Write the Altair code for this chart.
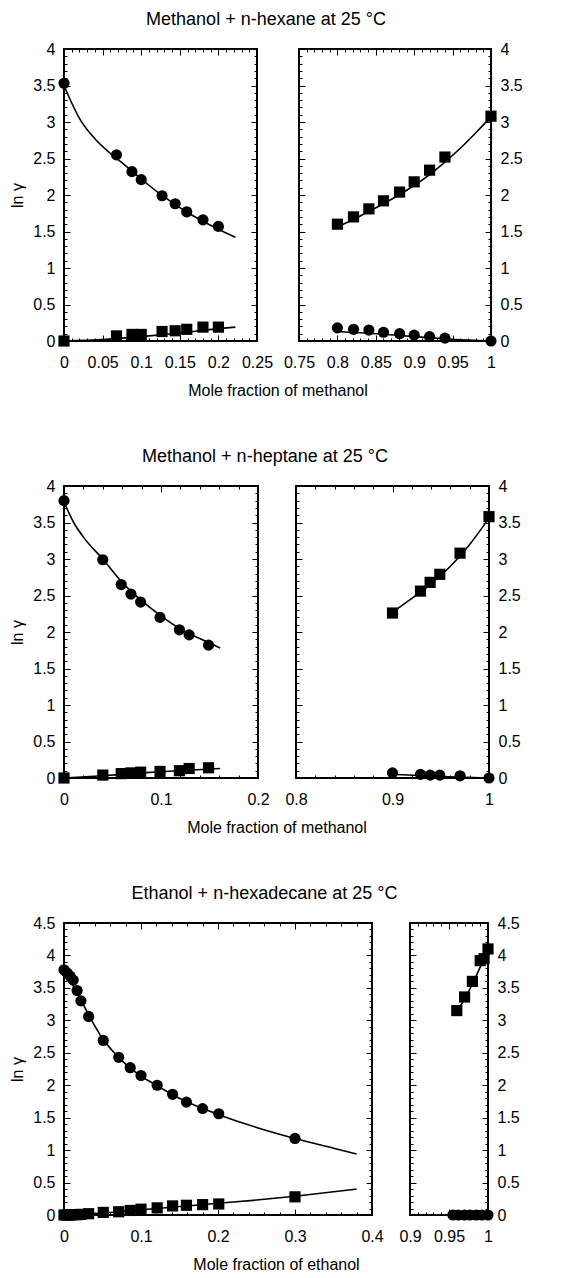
import altair as alt
import pandas as pd

# ---------------- Row 1: Methanol + n-hexane ----------------
r1L_x = [0, 0.068, 0.088, 0.1, 0.127, 0.144, 0.159, 0.18, 0.2]
r1L_circ_y = [3.53, 2.55, 2.32, 2.21, 1.99, 1.88, 1.77, 1.66, 1.57]
r1L_sq_y = [0.0, 0.07, 0.09, 0.09, 0.13, 0.14, 0.16, 0.19, 0.19]
r1L_fitc_x = [0, 0.01, 0.02, 0.04, 0.06, 0.08, 0.10, 0.12, 0.14, 0.16, 0.18, 0.20, 0.222]
r1L_fitc_y = [3.5, 3.26, 3.05, 2.77, 2.57, 2.40, 2.22, 2.05, 1.90, 1.76, 1.64, 1.53, 1.42]
r1L_fits_x = [0, 0.05, 0.1, 0.15, 0.2, 0.222]
r1L_fits_y = [0, 0.02, 0.06, 0.11, 0.17, 0.19]

r1R_x = [0.80, 0.821, 0.841, 0.86, 0.881, 0.90, 0.92, 0.94, 1.0]
r1R_sq_y = [1.6, 1.70, 1.81, 1.92, 2.04, 2.18, 2.34, 2.52, 3.08]
r1R_circ_y = [0.18, 0.16, 0.15, 0.12, 0.10, 0.08, 0.06, 0.04, 0.0]
r1R_fits_x = [0.80, 0.82, 0.84, 0.86, 0.88, 0.90, 0.92, 0.94, 0.96, 0.98, 1.0]
r1R_fits_y = [1.56, 1.66, 1.77, 1.88, 2.0, 2.13, 2.28, 2.45, 2.64, 2.85, 3.07]
r1R_fitc_x = [0.80, 0.85, 0.90, 0.95, 1.0]
r1R_fitc_y = [0.13, 0.10, 0.06, 0.025, 0.0]

# ---------------- Row 2: Methanol + n-heptane ----------------
r2L_x = [0, 0.04, 0.059, 0.069, 0.079, 0.099, 0.119, 0.129, 0.149]
r2L_circ_y = [3.8, 2.99, 2.65, 2.52, 2.41, 2.2, 2.03, 1.96, 1.82]
r2L_sq_y = [0, 0.04, 0.06, 0.07, 0.08, 0.09, 0.10, 0.13, 0.14]
r2L_fitc_x = [0, 0.01, 0.02, 0.04, 0.06, 0.08, 0.10, 0.12, 0.14, 0.15, 0.161]
r2L_fitc_y = [3.78, 3.5, 3.3, 3.0, 2.68, 2.43, 2.22, 2.04, 1.91, 1.85, 1.78]
r2L_fits_x = [0, 0.04, 0.08, 0.12, 0.161]
r2L_fits_y = [0, 0.03, 0.07, 0.10, 0.13]

r2R_x = [0.9, 0.929, 0.939, 0.949, 0.97, 1.0]
r2R_sq_y = [2.26, 2.56, 2.68, 2.79, 3.08, 3.58]
r2R_circ_y = [0.07, 0.05, 0.04, 0.04, 0.03, 0.0]
r2R_fits_x = [0.9, 0.92, 0.94, 0.96, 0.98, 1.0]
r2R_fits_y = [2.27, 2.46, 2.66, 2.90, 3.20, 3.56]
r2R_fitc_x = [0.9, 0.95, 1.0]
r2R_fitc_y = [0.05, 0.02, 0.0]

# ---------------- Row 3: Ethanol + n-hexadecane ----------------
r3L_x = [0, 0.004, 0.008, 0.012, 0.017, 0.022, 0.032, 0.051, 0.071, 0.086,
         0.1, 0.121, 0.141, 0.159, 0.18, 0.201, 0.3]
r3L_circ_y = [3.78, 3.73, 3.68, 3.62, 3.46, 3.3, 3.06, 2.69, 2.43, 2.27,
              2.15, 2.0, 1.86, 1.74, 1.64, 1.56, 1.18]
r3L_sq_y = [0, 0, 0, 0.005, 0.005, 0.01, 0.02, 0.04, 0.05, 0.07,
            0.09, 0.11, 0.14, 0.15, 0.16, 0.17, 0.28]
r3L_fitc_x = [0, 0.005, 0.01, 0.02, 0.03, 0.05, 0.07, 0.10, 0.12, 0.14, 0.16,
              0.18, 0.20, 0.25, 0.30, 0.35, 0.38]
r3L_fitc_y = [3.78, 3.68, 3.57, 3.36, 3.13, 2.72, 2.44, 2.14, 2.0, 1.86, 1.74,
              1.64, 1.55, 1.35, 1.18, 1.03, 0.94]
r3L_fits_x = [0, 0.05, 0.1, 0.15, 0.2, 0.25, 0.3, 0.38]
r3L_fits_y = [0, 0.03, 0.08, 0.13, 0.18, 0.23, 0.29, 0.40]

r3R_sq_x = [0.96, 0.97, 0.98, 0.99, 0.995, 1.0]
r3R_sq_y = [3.15, 3.36, 3.60, 3.92, 3.95, 4.10]
r3R_circ_x = [0.955, 0.962, 0.97, 0.977, 0.985, 0.992, 1.0]
r3R_circ_y = [0, 0, 0, 0, 0, 0, 0]
r3R_fits_x = [0.96, 0.97, 0.98, 0.99, 1.0]
r3R_fits_y = [3.13, 3.33, 3.56, 3.82, 4.08]
r3R_fitc_x = [0.955, 1.0]
r3R_fitc_y = [0.0, 0.0]

# ---------------- tick / label arrays ----------------
y_labels_4 = [0, 0.5, 1, 1.5, 2, 2.5, 3, 3.5, 4]
y_labels_45 = [0, 0.5, 1, 1.5, 2, 2.5, 3, 3.5, 4, 4.5]
y_minor_4 = [round(i * 0.1, 2) for i in range(41)]
y_minor_45 = [round(i * 0.1, 2) for i in range(46)]

r1L_xlabels = [0, 0.05, 0.1, 0.15, 0.2, 0.25]
r1L_xminor = [round(i * 0.01, 2) for i in range(26)]
r1R_xlabels = [0.75, 0.8, 0.85, 0.9, 0.95, 1]
r1R_xminor = [round(0.75 + i * 0.01, 2) for i in range(26)]
r2L_xlabels = [0, 0.1, 0.2]
r2L_xminor = [round(i * 0.02, 2) for i in range(11)]
r2R_xlabels = [0.8, 0.9, 1]
r2R_xminor = [round(0.8 + i * 0.02, 2) for i in range(11)]
r3L_xlabels = [0, 0.1, 0.2, 0.3, 0.4]
r3L_xminor = [round(i * 0.02, 2) for i in range(21)]
r3R_xlabels = [0.9, 0.95, 1]
r3R_xminor = [round(0.9 + i * 0.01, 2) for i in range(11)]

FONT = "Liberation Sans"
FS = 16


def df(xs, ys):
    return pd.DataFrame({"x": xs, "y": ys})


def tick_axis(orient, values, size):
    return alt.Axis(orient=orient, values=values, tickSize=size, offset=-size,
                    labels=False, domain=False, grid=False, title=None,
                    ticks=True, tickColor="black", tickWidth=1)


def panel(circ, sq, fitc, fits, xdom, ydom, xlabels, xminor, ylabels, yminor,
          side, width, height, xtitle=None, xtitle_x=None):
    xs = alt.Scale(domain=xdom, nice=False, zero=False)
    ys = alt.Scale(domain=ydom, nice=False, zero=False)
    other = "right" if side == "left" else "left"

    main_x = alt.Axis(orient="bottom", values=xlabels, format="~g", labels=True,
                      ticks=False, domain=False, grid=False, labelFlush=False,
                      labelOverlap=False, labelPadding=13, labelFontSize=FS,
                      labelFont=FONT, labelColor="black",
                      title=xtitle if xtitle else None, titleFont=FONT, titleFontSize=FS,
                      titleFontWeight="normal", titleColor="black", titlePadding=12,
                      **({"titleX": xtitle_x} if xtitle_x is not None else {}))
    ykw = dict(orient=side, values=ylabels, format="~g", labels=True, ticks=False,
               domain=False, grid=False, labelPadding=9, labelFontSize=FS,
               labelFont=FONT, labelColor="black", labelOverlap=False,
               labelFlush=False)
    if side == "left":
        main_y = alt.Axis(title="ln γ", titleFont=FONT, titleFontSize=FS,
                          titleFontWeight="normal", titleColor="black", titlePadding=7,
                          **ykw)
    else:
        main_y = alt.Axis(title=None, labelAlign="left", **ykw)

    def enc(base, xaxis, yaxis):
        return base.encode(
            x=alt.X("x:Q", scale=xs, axis=xaxis),
            y=alt.Y("y:Q", scale=ys, axis=yaxis),
        )

    line_c = enc(alt.Chart(df(*fitc)).mark_line(color="black", strokeWidth=1.6,
                                                interpolate="monotone"),
                 main_x, main_y)
    line_s = enc(alt.Chart(df(*fits)).mark_line(color="black", strokeWidth=1.6,
                                                interpolate="monotone"),
                 tick_axis("bottom", xlabels, 6), tick_axis(side, ylabels, 6))
    pts_c = enc(alt.Chart(df(*circ)).mark_circle(color="black", size=125, opacity=1),
                tick_axis("bottom", xminor, 3), tick_axis(side, yminor, 3))
    pts_s = enc(alt.Chart(df(*sq)).mark_square(color="black", size=125, opacity=1),
                tick_axis("top", xlabels, 6), tick_axis(other, ylabels, 6))
    ghost = enc(alt.Chart(df(*circ)).mark_point(opacity=0),
                tick_axis("top", xminor, 3), tick_axis(other, yminor, 3))

    return alt.layer(line_c, line_s, ghost, pts_c, pts_s).resolve_axis(
        x="independent", y="independent"
    ).properties(width=width, height=height)


def row(title, left, right, spacing):
    return alt.hconcat(left, right, spacing=spacing, bounds="flush",
                       title=alt.TitleParams(title, anchor="middle", font=FONT,
                                             fontSize=18, fontWeight="normal",
                                             color="black", offset=11))


H = 292
# Row 1
w1l, w1r, s1 = 193, 192, 42
p1l = panel((r1L_x, r1L_circ_y), (r1L_x, r1L_sq_y), (r1L_fitc_x, r1L_fitc_y),
            (r1L_fits_x, r1L_fits_y), [0, 0.25], [0, 4], r1L_xlabels, r1L_xminor,
            y_labels_4, y_minor_4, "left", w1l, H,
            "Mole fraction of methanol", (w1l + s1 + w1r) / 2)
p1r = panel((r1R_x, r1R_circ_y), (r1R_x, r1R_sq_y), (r1R_fitc_x, r1R_fitc_y),
            (r1R_fits_x, r1R_fits_y), [0.75, 1], [0, 4], r1R_xlabels, r1R_xminor,
            y_labels_4, y_minor_4, "right", w1r, H)
row1 = row("Methanol + n-hexane at 25 °C", p1l, p1r, s1)

# Row 2
w2l, w2r, s2 = 194, 193, 38
p2l = panel((r2L_x, r2L_circ_y), (r2L_x, r2L_sq_y), (r2L_fitc_x, r2L_fitc_y),
            (r2L_fits_x, r2L_fits_y), [0, 0.2], [0, 4], r2L_xlabels, r2L_xminor,
            y_labels_4, y_minor_4, "left", w2l, H,
            "Mole fraction of methanol", (w2l + s2 + w2r) / 2)
p2r = panel((r2R_x, r2R_circ_y), (r2R_x, r2R_sq_y), (r2R_fitc_x, r2R_fitc_y),
            (r2R_fits_x, r2R_fits_y), [0.8, 1], [0, 4], r2R_xlabels, r2R_xminor,
            y_labels_4, y_minor_4, "right", w2r, H)
row2 = row("Methanol + n-heptane at 25 °C", p2l, p2r, s2)

# Row 3
w3l, w3r, s3 = 308, 78, 38
p3l = panel((r3L_x, r3L_circ_y), (r3L_x, r3L_sq_y), (r3L_fitc_x, r3L_fitc_y),
            (r3L_fits_x, r3L_fits_y), [0, 0.4], [0, 4.5], r3L_xlabels, r3L_xminor,
            y_labels_45, y_minor_45, "left", w3l, H,
            "Mole fraction of ethanol", (w3l + s3 + w3r) / 2)
p3r = panel((r3R_circ_x, r3R_circ_y), (r3R_sq_x, r3R_sq_y), (r3R_fitc_x, r3R_fitc_y),
            (r3R_fits_x, r3R_fits_y), [0.9, 1], [0, 4.5], r3R_xlabels, r3R_xminor,
            y_labels_45, y_minor_45, "right", w3r, H)
row3 = row("Ethanol + n-hexadecane at 25 °C", p3l, p3r, s3)

chart = alt.vconcat(row1, row2, row3, spacing=49).properties(
    padding={"left": 0, "top": 3, "right": 5, "bottom": 0},
    background="white",
).configure_view(stroke="black", strokeWidth=2)

chart.save("out.html", embed_options={"renderer": "svg", "actions": False})
